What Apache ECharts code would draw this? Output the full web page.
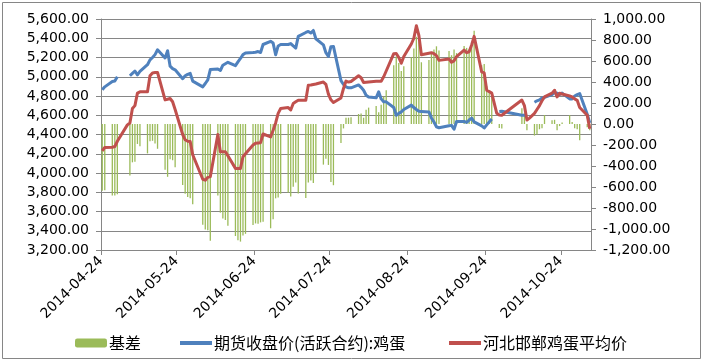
<!DOCTYPE html>
<html>
<head>
<meta charset="utf-8">
<script src="https://cdn.jsdelivr.net/npm/echarts@6/dist/echarts.min.js"></script>
<style>html,body{margin:0;padding:0;background:#fff;}#c{width:703px;height:363px;}</style>
</head>
<body>
<div id="c"></div>
<script>
const dates = ['2014-04-24','2014-04-25','2014-04-28','2014-04-29','2014-04-30','2014-05-04','2014-05-05','2014-05-06','2014-05-07','2014-05-08','2014-05-09',
'2014-05-12','2014-05-13','2014-05-14','2014-05-15','2014-05-16','2014-05-19','2014-05-20','2014-05-21','2014-05-22','2014-05-23',
'2014-05-26','2014-05-27','2014-05-28','2014-05-29','2014-05-30','2014-06-03','2014-06-04','2014-06-05','2014-06-06',
'2014-06-09','2014-06-10','2014-06-11','2014-06-12','2014-06-13','2014-06-16','2014-06-17','2014-06-18','2014-06-19','2014-06-20',
'2014-06-23','2014-06-24','2014-06-25','2014-06-26','2014-06-27','2014-06-30','2014-07-01','2014-07-02','2014-07-03','2014-07-04',
'2014-07-07','2014-07-08','2014-07-09','2014-07-10','2014-07-11','2014-07-14','2014-07-15','2014-07-16','2014-07-17','2014-07-18',
'2014-07-21','2014-07-22','2014-07-23','2014-07-24','2014-07-25','2014-07-28','2014-07-29','2014-07-30','2014-07-31','2014-08-01',
'2014-08-04','2014-08-05','2014-08-06','2014-08-07','2014-08-08','2014-08-11','2014-08-12','2014-08-13','2014-08-14','2014-08-15',
'2014-08-18','2014-08-19','2014-08-20','2014-08-21','2014-08-22','2014-08-25','2014-08-26','2014-08-27','2014-08-28','2014-08-29',
'2014-09-01','2014-09-02','2014-09-03','2014-09-04','2014-09-05','2014-09-09','2014-09-10','2014-09-11','2014-09-12',
'2014-09-15','2014-09-16','2014-09-17','2014-09-18','2014-09-19','2014-09-22','2014-09-23','2014-09-24','2014-09-25','2014-09-26',
'2014-09-28','2014-09-29','2014-09-30','2014-10-08','2014-10-09','2014-10-10','2014-10-11',
'2014-10-13','2014-10-14','2014-10-15','2014-10-16','2014-10-17','2014-10-20','2014-10-21','2014-10-22','2014-10-23','2014-10-24',
'2014-10-27','2014-10-28','2014-10-29','2014-10-30','2014-10-31','2014-11-03','2014-11-04'];

// 期货收盘价(活跃合约):鸡蛋
const futures = [4865,4895,4950,4955,5000,null,5010,5035,5060,5020,5055,
5125,5175,5200,5230,5280,5195,5270,5110,5085,5072,
4980,5010,5025,5035,4955,4895,4930,4968,5075,
5080,5065,5120,5135,5150,5115,5155,5190,5230,5246,
5252,5255,5262,5252,5335,5368,5350,5228,5320,5335,
5335,5345,5320,5298,5419,5460,5471,5454,5481,5395,
5332,5250,5210,5312,5315,4960,4920,4895,4885,4885,
4915,4890,4860,4808,4790,4781,4843,4770,4739,4739,
4680,4600,4620,4635,4660,4705,4680,4660,4642,4640,
4635,4572,4530,4480,4470,4490,4495,4455,4535,
4535,4525,4550,4570,4531,4490,4468,4500,4530,4560,
null,4640,4642,4600,4600,4595,null,
4735,4750,4760,4780,4785,4815,4835,4830,4815,4830,
4770,4770,4800,4815,4825,4610,4520];

// 河北邯郸鸡蛋平均价
const spot = [4230,4265,4268,4275,4330,4500,4520,4670,4700,4830,4843,
4845,5010,5040,5044,5044,4760,4767,4774,4740,4660,
4400,4345,4330,4328,4190,3935,3925,3955,3962,
4400,4221,4221,4221,4180,4048,4048,4048,4169,4200,
4290,4308,4312,4315,4405,4375,4444,4520,4620,4670,
4680,4655,4722,4740,4756,4756,4913,4915,4920,4925,
4945,4920,4820,4760,4732,4780,4878,4955,4945,4950,
5010,4990,4940,4943,4946,4952,4954,4954,5000,5060,
5240,5242,5200,5140,5210,5340,5400,5530,5430,5228,
5245,5250,5240,5220,5170,5185,5150,5165,5210,
5277,5250,5260,5330,5420,5050,5040,4860,4846,4830,
4620,4603,4600,4758,4700,4550,4570,
4620,4660,4700,4750,4791,4830,4860,4790,4829,4820,
4800,4790,4770,4755,4680,4600,4460];

// 基差
const basis = [-635,-630,-682,-680,-670,null,-490,-365,-360,-190,-212,
-280,-165,-160,-186,-236,-435,-503,-336,-345,-412,
-580,-665,-695,-707,-765,-960,-1005,-1013,-1113,
-680,-844,-899,-914,-970,-1067,-1107,-1120,-1061,-1046,
-962,-947,-950,-937,-930,-993,-906,-708,-700,-665,
-655,-690,-598,-558,-663,-704,-558,-539,-561,-470,
-387,-330,-390,-552,-583,-180,-42,60,60,65,
95,100,60,135,156,171,111,184,261,321,
560,642,580,505,550,635,720,830,788,588,
610,678,710,740,700,695,655,710,675,
742,725,710,760,889,560,572,360,316,270,
null,-37,-42,150,100,-60,null,
-110,-100,-50,-40,85,35,40,-60,-20,15,
85,20,-40,-50,-155,-30,-60];

const tickLabels = ['2014-04-24','2014-05-24','2014-06-24','2014-07-24','2014-08-24','2014-09-24','2014-10-24'];
const xStart = '2014-04-24', xEnd = '2014-11-05';
const names = ['基差','期货收盘价(活跃合约):鸡蛋','河北邯郸鸡蛋平均价'];

const DAY = 86400000;
function ts(s){const p=s.split('-').map(Number);return Date.UTC(p[0],p[1]-1,p[2]);}
function dayOf(s){return Math.round((ts(s)-ts(xStart))/DAY);}
function fmt(v){
  const neg = v < 0; const a = Math.abs(v).toFixed(2);
  const parts = a.split('.');
  const ip = parts[0].replace(/\B(?=(\d{3})+(?!\d))/g, ',');
  return (neg?'-':'') + ip + '.' + parts[1];
}
function pairs(arr){return dates.map((d,i)=>[dayOf(d)+0.5, arr[i]==null?'-':arr[i]]);}
const tickDays = tickLabels.map(dayOf);
const gray = '#868686';
const numFont = 'DejaVu Sans';
const cjk = '"Noto Sans CJK SC", sans-serif';
const legText = {fontFamily:cjk,fontSize:16,color:'#000',padding:[0,0,0,-3]};

const chart = echarts.init(document.getElementById('c'), null, {renderer:'canvas'});
chart.setOption({
  animation:false,
  backgroundColor:'#fff',
  graphic:[{type:'rect',silent:true,shape:{x:2.5,y:2.5,width:698,height:356},style:{fill:'none',stroke:gray,lineWidth:1}}],
  grid:{left:101,right:112,top:19,bottom:113,containLabel:false},
  legend:[
    {data:[names[0]],left:75,top:335,padding:0,itemWidth:32,itemHeight:9,textStyle:legText},
    {data:[names[1]],left:180,top:335,padding:0,itemWidth:32,itemHeight:4,icon:'rect',textStyle:legText},
    {data:[names[2]],left:449,top:335,padding:0,itemWidth:32,itemHeight:4,icon:'rect',textStyle:legText}
  ],
  xAxis:{type:'value',min:0,max:dayOf(xEnd),
    axisLine:{show:true,onZero:false,lineStyle:{color:gray,width:1}},
    axisTick:{show:true,customValues:tickDays,length:5,lineStyle:{color:gray}},
    axisLabel:{customValues:tickDays,rotate:45,margin:9,color:'#000',fontFamily:numFont,fontSize:14,
      formatter:function(v){const i=tickDays.indexOf(Math.round(v));return i>=0?tickLabels[i]:'';}},
    splitLine:{show:false}},
  yAxis:[
    {type:'value',min:3200,max:5600,interval:200,position:'left',
     axisLine:{show:true,lineStyle:{color:gray}},axisTick:{show:true,length:5,lineStyle:{color:gray}},
     axisLabel:{color:'#000',fontFamily:numFont,fontSize:14,margin:12,formatter:fmt},
     splitLine:{show:true,lineStyle:{color:gray,width:1}}},
    {type:'value',min:-1200,max:1000,interval:200,position:'right',
     axisLine:{show:true,lineStyle:{color:gray}},axisTick:{show:true,length:5,lineStyle:{color:gray}},
     axisLabel:{color:'#000',fontFamily:numFont,fontSize:14,margin:12,formatter:fmt},
     splitLine:{show:false}}
  ],
  series:[
    {name:names[0],type:'bar',yAxisIndex:1,data:pairs(basis),barWidth:1.3,itemStyle:{color:'#9bbb59'},z:1},
    {name:names[1],type:'line',yAxisIndex:0,data:pairs(futures),showSymbol:false,symbol:'none',connectNulls:false,
     lineStyle:{color:'#4f81bd',width:3,join:'round'},itemStyle:{color:'#4f81bd'},z:3},
    {name:names[2],type:'line',yAxisIndex:0,data:pairs(spot),showSymbol:false,symbol:'none',
     lineStyle:{color:'#c0504d',width:3,join:'round'},itemStyle:{color:'#c0504d'},z:4}
  ]
});
</script>
</body>
</html>
